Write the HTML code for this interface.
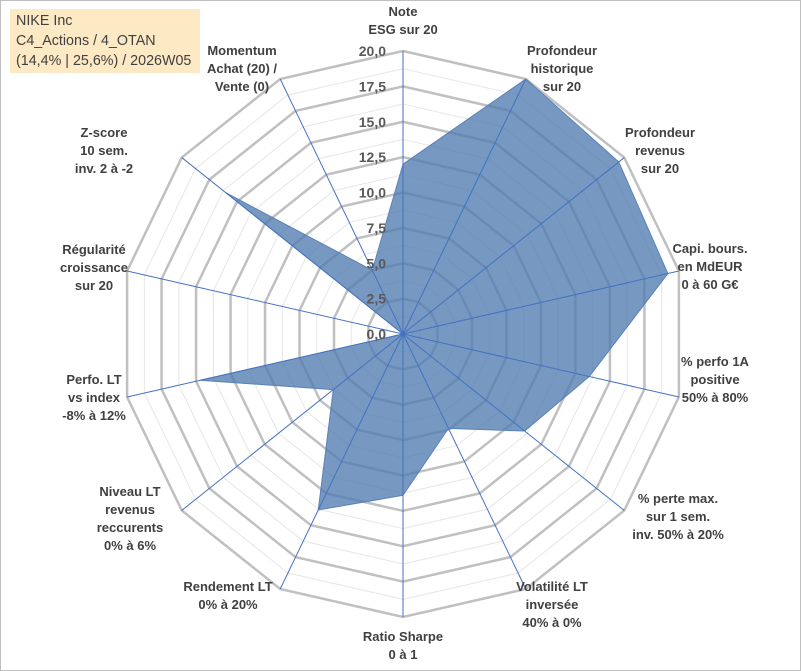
<!DOCTYPE html>
<html><head><meta charset="utf-8"><style>
html,body{margin:0;padding:0;background:#fff;}
body{width:801px;height:671px;overflow:hidden;position:relative;font-family:"Liberation Sans",sans-serif;}
#frame{position:absolute;left:0;top:0;width:799px;height:669px;border:1px solid #bfbfbf;}
#title{position:absolute;left:10px;top:9px;width:190px;height:64px;background:#fde9c4;color:#404040;font-size:14.3px;line-height:20px;padding:2px 0 0 6px;box-sizing:border-box;font-family:"Liberation Sans",sans-serif;white-space:nowrap;}
svg{position:absolute;left:0;top:0;}
.lab{font-size:13px;font-weight:bold;fill:#404040;}
.tick{font-size:14px;font-weight:bold;fill:#595959;}
</style></head><body>
<div id="frame"></div>
<svg id="chart" width="801" height="671"></svg>
<div id="title">NIKE Inc<br>C4_Actions / 4_OTAN<br>(14,4% | 25,6%) / 2026W05</div>
<script>
const categories = [
 ["Note","ESG sur 20"],
 ["Profondeur","historique","sur 20"],
 ["Profondeur","revenus","sur 20"],
 ["Capi. bours.","en MdEUR","0 à 60 G€"],
 ["% perfo 1A","positive","50% à 80%"],
 ["% perte max.","sur 1 sem.","inv. 50% à 20%"],
 ["Volatilité LT","inversée","40% à 0%"],
 ["Ratio Sharpe","0 à 1"],
 ["Rendement LT","0% à 20%"],
 ["Niveau LT","revenus","reccurents","0% à 6%"],
 ["Perfo. LT","vs index","-8% à 12%"],
 ["Régularité","croissance","sur 20"],
 ["Z-score","10 sem.","inv. 2 à -2"],
 ["Momentum","Achat (20) /","Vente (0)"]
];
const values = [12, 20, 19.5, 19.2, 13.5, 11, 7.4, 11.4, 13.8, 6.3, 14.7, 0, 16, 5];
const tickValues = [0, 2.5, 5, 7.5, 10, 12.5, 15, 17.5, 20];
const tickLabels = ["0,0","2,5","5,0","7,5","10,0","12,5","15,0","17,5","20,0"];
const labelPos = [[403,16],[562,55],[660,137],[710,253],[715,366],[678,503],[552,591],[403,641],[228,591],[130,496],[94,384],[94,254],[104,137],[242,55]];

const svg = document.getElementById('chart');
const NS = 'http://www.w3.org/2000/svg';
const cx = 403, cy = 334, R = 283, maxV = 20;
const N = categories.length;
function ang(i){ return i * 2 * Math.PI / N; }
function pt(i, v){ const r = v / maxV * R; return [cx + r * Math.sin(ang(i)), cy - r * Math.cos(ang(i))]; }
function mk(tag, attrs){ const e = document.createElementNS(NS, tag); for (const k in attrs) e.setAttribute(k, attrs[k]); svg.appendChild(e); return e; }

for (let v = 1.25; v < maxV; v += 2.5) {
  const p = categories.map((c,i)=>pt(i,v).join(',')).join(' ');
  const e = mk('polygon', {points:p, fill:'none', stroke:'#e6e6e6', 'stroke-width':1});
  
  
}
tickValues.forEach(v=>{
  if (v === 0) return;
  const p = categories.map((c,i)=>pt(i,v).join(',')).join(' ');
  const e = mk('polygon', {points:p, fill:'none', stroke:'#c0c0c0', 'stroke-width':2.5});
  
  
});
const dp = values.map((v,i)=>pt(i,v).join(',')).join(' ');
const poly = mk('polygon', {points:dp, fill:'rgba(79,123,176,0.78)', stroke:'#5a82b8', 'stroke-width':1});


categories.forEach((c,i)=>{
  const [x,y] = pt(i,maxV);
  const e = mk('line', {x1:cx, y1:cy, x2:x, y2:y, stroke:'#4472c4', 'stroke-width':1});
  
  
});
tickValues.forEach((v,k)=>{
  const y = cy - v / maxV * R;
  const t = mk('text', {x:386, y:y+5, 'text-anchor':'end', class:'tick'});
  t.textContent = tickLabels[k];
  
  
});
categories.forEach((lines,i)=>{
  const [x,y] = labelPos[i];
  const t = mk('text', {x:x, y:y, 'text-anchor':'middle', class:'lab'});
  
  
  lines.forEach((l,j)=>{
    const s = document.createElementNS(NS,'tspan');
    s.setAttribute('x', x); s.setAttribute('dy', j === 0 ? 0 : 18);
    s.textContent = l; t.appendChild(s);
  });
});
</script>
</body></html>
